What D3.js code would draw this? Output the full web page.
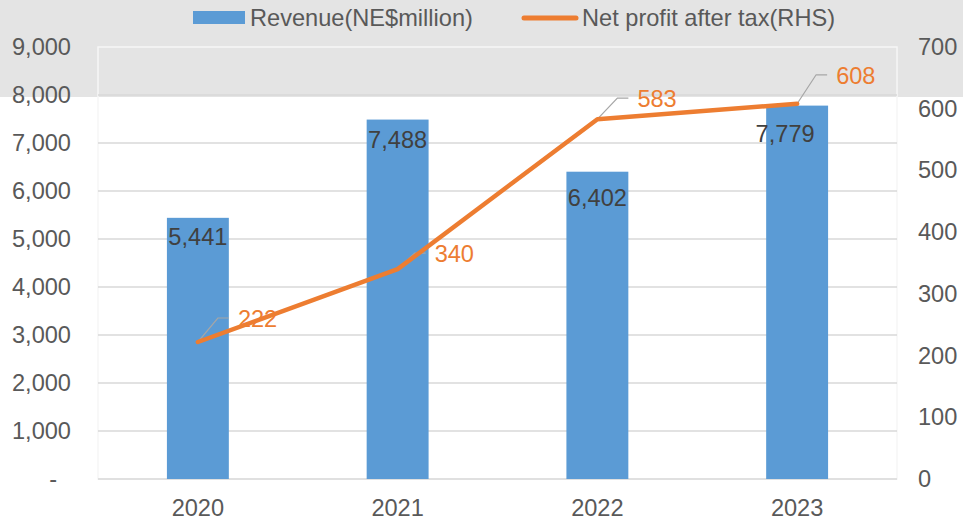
<!DOCTYPE html>
<html>
<head>
<meta charset="utf-8">
<script src="https://cdn.jsdelivr.net/npm/d3@7"></script>
<style>
  html, body { margin: 0; padding: 0; background: #fff; }
  svg { display: block; font-family: "Liberation Sans", Arial, sans-serif; }
</style>
</head>
<body>
<div id="chart"></div>
<script>
// Revenue bars (left axis) + net profit line (right axis)
var years = ["2020", "2021", "2022", "2023"];
var revenue = [5441, 7488, 6402, 7779];
var netProfit = [222, 340, 583, 608];
var leftTicks = [0, 1000, 2000, 3000, 4000, 5000, 6000, 7000, 8000, 9000];
var rightTicks = [0, 100, 200, 300, 400, 500, 600, 700];

// label nudges (px)
var barLabelDy = [19, 20, 26, 28];
var barLabelDx = [0, 0, 0, -12];
var leaderKnee = [[20, -24], [17, -16], [20, -21], [19, -29]];

var svgWidth = 963, svgHeight = 521;
var margin = { top: 47, right: 66, bottom: 42, left: 98 };
var width = svgWidth - margin.left - margin.right;
var height = svgHeight - margin.top - margin.bottom;

var blue = "#5B9BD5", orange = "#ED7D31", grey = "#595959";
var fs = 23.6;

var svg = d3.select("#chart").append("svg")
  .attr("width", svgWidth)
  .attr("height", svgHeight);

// grey band at the top of the picture
svg.append("rect")
  .attr("x", 0).attr("y", 0)
  .attr("width", svgWidth).attr("height", 97)
  .attr("fill", "#E4E4E4");

var g = svg.append("g")
  .attr("transform", "translate(" + margin.left + "," + margin.top + ")");

var x = d3.scaleBand()
  .domain(years)
  .range([0, width])
  .paddingInner(0.69)
  .paddingOuter(0.345);

var y = d3.scaleLinear().domain([0, 9000]).range([height, 0]);
var y2 = d3.scaleLinear().domain([0, 700]).range([height, 0]);

// plot area border
g.append("rect")
  .attr("x", 0).attr("y", 0)
  .attr("width", width).attr("height", height)
  .attr("fill", "none")
  .attr("stroke", "#F6F6F6")
  .attr("stroke-width", 1.5);

// gridlines
g.selectAll(".grid")
  .data(leftTicks.filter(function(d) { return d < 9000; }))
  .enter().append("line")
  .attr("class", "grid")
  .attr("x1", 0).attr("x2", width)
  .attr("y1", function(d) { return y(d); })
  .attr("y2", function(d) { return y(d); })
  .attr("stroke", "#D9D9D9")
  .attr("stroke-width", 1.5);

// left axis
var leftAxis = g.append("g")
  .call(d3.axisLeft(y).tickValues(leftTicks).tickSize(0).tickPadding(27)
    .tickFormat(function(d) { return d === 0 ? "-" : d3.format(",")(d); }));
leftAxis.select(".domain").remove();
leftAxis.selectAll("text")
  .attr("font-size", fs).attr("fill", grey)
  .attr("font-family", "Liberation Sans, Arial, sans-serif")
  .attr("dx", function(d) { return d === 0 ? -14 : 0; });

// right axis
var rightAxis = g.append("g")
  .attr("transform", "translate(" + width + ",0)")
  .call(d3.axisRight(y2).tickValues(rightTicks).tickSize(0).tickPadding(21));
rightAxis.select(".domain").remove();
rightAxis.selectAll("text")
  .attr("font-size", fs).attr("fill", grey)
  .attr("font-family", "Liberation Sans, Arial, sans-serif");

// x axis
var xAxis = g.append("g")
  .attr("transform", "translate(0," + height + ")")
  .call(d3.axisBottom(x).tickSize(0).tickPadding(20));
xAxis.select(".domain").remove();
xAxis.selectAll("text")
  .attr("font-size", fs).attr("fill", grey)
  .attr("font-family", "Liberation Sans, Arial, sans-serif");

// bars
g.selectAll(".bar")
  .data(revenue)
  .enter().append("rect")
  .attr("class", "bar")
  .attr("x", function(d, i) { return x(years[i]); })
  .attr("y", function(d) { return y(d); })
  .attr("width", x.bandwidth())
  .attr("height", function(d) { return height - y(d); })
  .attr("fill", blue);

g.selectAll(".barLabel")
  .data(revenue)
  .enter().append("text")
  .attr("class", "barLabel")
  .attr("x", function(d, i) { return x(years[i]) + x.bandwidth() / 2 + barLabelDx[i]; })
  .attr("y", function(d, i) { return y(d) + barLabelDy[i]; })
  .attr("text-anchor", "middle")
  .attr("dominant-baseline", "central")
  .attr("font-size", fs)
  .attr("fill", "#404040")
  .text(function(d) { return d3.format(",")(d); });

var cx = function(i) { return x(years[i]) + x.bandwidth() / 2; };

// leader lines for the profit labels
g.selectAll(".leader")
  .data(netProfit)
  .enter().append("polyline")
  .attr("class", "leader")
  .attr("points", function(d, i) {
    var px = cx(i), py = y2(d), k = leaderKnee[i];
    return [[px, py], [px + k[0], py + k[1]], [px + k[0] + 11, py + k[1]]].join(" ");
  })
  .attr("fill", "none")
  .attr("stroke", "#A6A6A6")
  .attr("stroke-width", 1.2);

g.selectAll(".lineLabel")
  .data(netProfit)
  .enter().append("text")
  .attr("class", "lineLabel")
  .attr("x", function(d, i) { return cx(i) + leaderKnee[i][0] + 20; })
  .attr("y", function(d, i) { return y2(d) + leaderKnee[i][1] + 1; })
  .attr("dominant-baseline", "central")
  .attr("font-size", fs)
  .attr("fill", orange)
  .text(function(d) { return d; });

// profit line
var line = d3.line()
  .x(function(d, i) { return cx(i); })
  .y(function(d) { return y2(d); });

g.append("path")
  .datum(netProfit)
  .attr("d", line)
  .attr("fill", "none")
  .attr("stroke", orange)
  .attr("stroke-width", 4.5)
  .attr("stroke-linecap", "round")
  .attr("stroke-linejoin", "round");

// legend
var legend = svg.append("g");
legend.append("rect")
  .attr("x", 193).attr("y", 11)
  .attr("width", 52).attr("height", 13)
  .attr("fill", blue);
legend.append("text")
  .attr("x", 250).attr("y", 18)
  .attr("dominant-baseline", "central")
  .attr("font-size", fs).attr("fill", grey)
  .text("Revenue(NE$million)");
legend.append("line")
  .attr("x1", 524).attr("x2", 576)
  .attr("y1", 18).attr("y2", 18)
  .attr("stroke", orange)
  .attr("stroke-width", 5)
  .attr("stroke-linecap", "round");
legend.append("text")
  .attr("x", 582).attr("y", 18)
  .attr("dominant-baseline", "central")
  .attr("font-size", fs).attr("fill", grey)
  .text("Net profit after tax(RHS)");
</script>
</body>
</html>
